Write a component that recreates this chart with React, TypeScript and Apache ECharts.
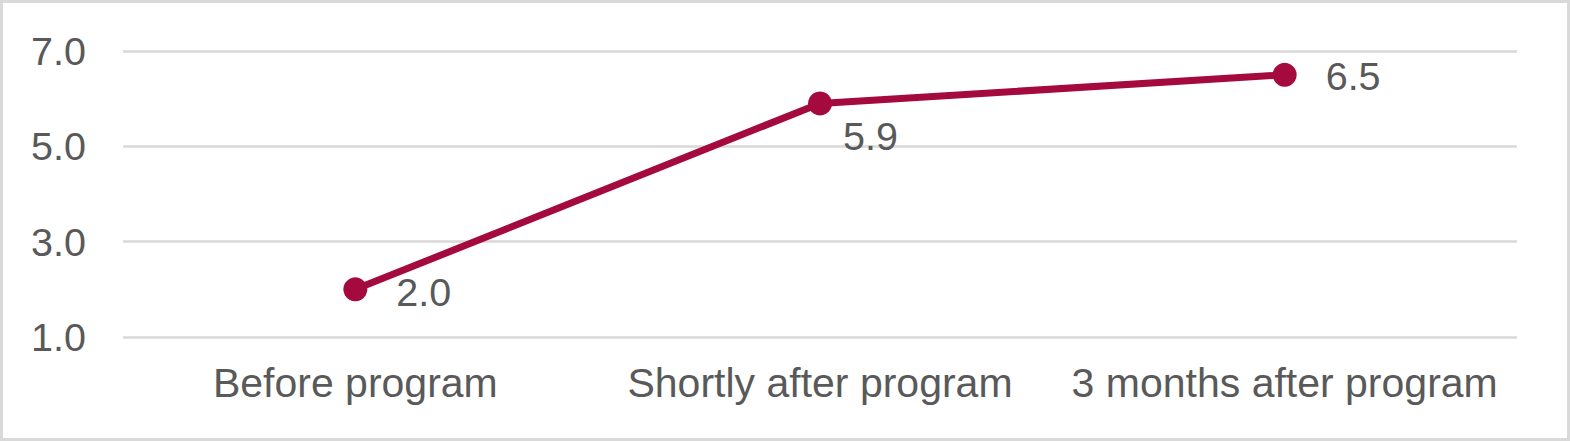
import React, { useEffect, useRef } from "react";
import * as echarts from "echarts";

const categories = ["Before program", "Shortly after program", "3 months after program"];
const values = [2.0, 5.9, 6.5];
const yTicks = { min: 1, max: 7, interval: 2 };
const labelOffsets: [number, number][] = [[0, 3], [-18, 33], [0, 1]];

const FONT = "'Liberation Sans', Arial, sans-serif";
const TEXT = "#595959";
const LINE = "#A50A3F";
const GRID = "#D9D9D9";

export default function App() {
  const ref = useRef<HTMLDivElement>(null);
  useEffect(() => {
    if (!ref.current) return;
    const chart = echarts.init(ref.current, null, { renderer: "svg" });
    chart.setOption({
      animation: false,
      backgroundColor: "#FFFFFF",
      grid: { left: 123, right: 53, top: 51, bottom: 104, containLabel: false },
      xAxis: {
        type: "category",
        data: categories,
        boundaryGap: true,
        axisLine: { show: false },
        axisTick: { show: false },
        axisLabel: {
          color: TEXT,
          fontSize: 41,
          fontFamily: FONT,
          margin: 25,
          interval: 0,
          hideOverlap: false,
        },
      },
      yAxis: {
        type: "value",
        min: yTicks.min,
        max: yTicks.max,
        interval: yTicks.interval,
        axisLine: { show: false },
        axisTick: { show: false },
        axisLabel: {
          color: TEXT,
          fontSize: 39.5,
          fontFamily: FONT,
          margin: 37,
          formatter: (v: number) => v.toFixed(1),
        },
        splitLine: { lineStyle: { color: GRID, width: 2.5 } },
      },
      series: [
        {
          type: "line",
          data: values.map((v, i) => ({
            value: v,
            label: { offset: labelOffsets[i] },
          })),
          symbol: "circle",
          symbolSize: 24,
          lineStyle: { color: LINE, width: 7 },
          itemStyle: { color: LINE },
          label: {
            show: true,
            position: "right",
            distance: 29,
            color: TEXT,
            fontSize: 39.5,
            fontFamily: FONT,
            formatter: (p: any) => Number(p.value).toFixed(1),
          },
        },
      ],
      graphic: [
        {
          type: "rect",
          shape: { x: 1.5, y: 1.5, width: 1567, height: 438 },
          style: { fill: "none", stroke: GRID, lineWidth: 3 },
          silent: true,
        },
      ],
    });
    return () => chart.dispose();
  }, []);
  return (
    <div style={{ position: "fixed", left: 0, top: 0, width: 1570, height: 441, background: "#fff" }}>
      <div ref={ref} style={{ width: 1570, height: 441 }} />
    </div>
  );
}
